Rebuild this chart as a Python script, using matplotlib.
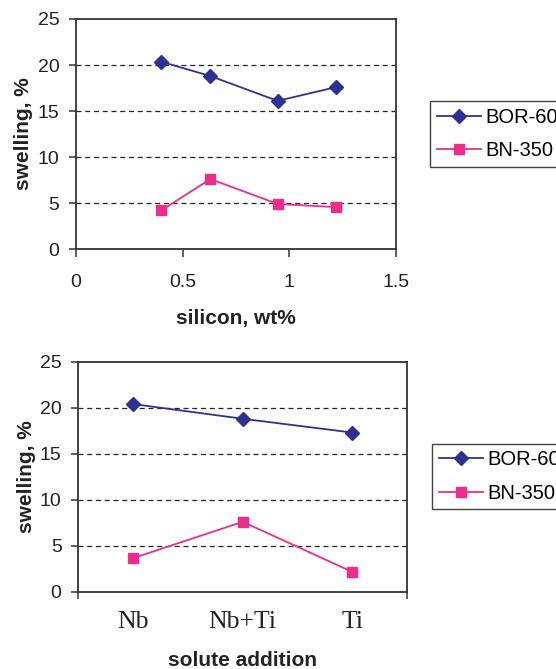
"""Swelling vs silicon content and solute addition, BOR-60 vs BN-350."""

import matplotlib
matplotlib.use("Agg")
import matplotlib.pyplot as plt

plt.rcParams["font.family"] = ["Liberation Sans", "DejaVu Sans"]

# top panel: silicon content
SILICON_WT = [0.40, 0.63, 0.945, 1.22]
SI_BOR60 = [20.35, 18.8, 16.1, 17.6]
SI_BN350 = [4.2, 7.6, 4.9, 4.55]

# bottom panel: solute addition
SOLUTES = ["Nb", "Nb+Ti", "Ti"]
SOL_BOR60 = [20.4, 18.8, 17.3]
SOL_BN350 = [3.65, 7.6, 2.15]

Y_TICKS = [0, 5, 10, 15, 20, 25]
SERIES_NAMES = ["BOR-60", "BN-350"]

NAVY = "#2e3192"
PINK = "#ec2d8c"


def style_axes(ax):
    ax.set_ylim(0, 25)
    ax.set_yticks(Y_TICKS)
    for y in Y_TICKS[1:-1]:
        ax.axhline(y, color="#222222", lw=0.9, ls=(0, (4, 3)), zorder=0)
    for sp in ax.spines.values():
        sp.set_color("#333333")
        sp.set_linewidth(1.3)
    ax.tick_params(axis="both", direction="out", length=5, width=1.1,
                   color="#333333", labelsize=14, labelcolor="#222222")
    ax.tick_params(axis="y", pad=7)
    ax.set_ylabel("swelling, %", fontsize=15, fontweight="bold",
                  color="#222222", labelpad=3)


def add_legend(fig, ax, anchor):
    # the reference crops the legend at the right edge of the figure
    fig.legend(*ax.get_legend_handles_labels(), loc="upper left",
               bbox_to_anchor=anchor, bbox_transform=fig.transFigure,
               borderaxespad=0, fancybox=False, edgecolor="#444444",
               framealpha=1, fontsize=14.5, handlelength=2.2,
               labelspacing=0.72, handletextpad=0.2, borderpad=0.33)


fig = plt.figure(figsize=(5.56, 6.69), dpi=100)

ax1 = fig.add_axes([0.1367, 0.6278, 0.5755, 0.3438])
ax1.plot(SILICON_WT, SI_BOR60, color=NAVY, marker="D", ms=7, lw=1.3,
         label=SERIES_NAMES[0])
ax1.plot(SILICON_WT, SI_BN350, color=PINK, marker="s", ms=7, lw=1.3,
         label=SERIES_NAMES[1])
ax1.set_xlim(0, 1.5)
ax1.set_xticks([0, 0.5, 1, 1.5], ["0", "0.5", "1", "1.5"])
style_axes(ax1)
ax1.tick_params(axis="x", length=6, pad=12)
ax1.set_xlabel("silicon, wt%", fontsize=15, fontweight="bold",
               color="#222222", labelpad=13)
add_legend(fig, ax1, (0.7734, 0.849))

ax2 = fig.add_axes([0.1408, 0.1155, 0.5917, 0.3438])
pos = [i + 0.5 for i in range(len(SOLUTES))]
ax2.plot(pos, SOL_BOR60, color=NAVY, marker="D", ms=7, lw=1.3,
         label=SERIES_NAMES[0])
ax2.plot(pos, SOL_BN350, color=PINK, marker="s", ms=7, lw=1.3,
         label=SERIES_NAMES[1])
ax2.set_xlim(0, len(SOLUTES))
style_axes(ax2)
ax2.set_xticks([0, len(SOLUTES)], ["", ""])
ax2.set_xticks(pos, SOLUTES, minor=True)
ax2.tick_params(axis="x", which="minor", length=0, pad=14, labelsize=18.5)
for lbl in ax2.get_xticklabels(minor=True):
    lbl.set_fontfamily(["Liberation Serif", "DejaVu Serif"])
    lbl.set_color("#222222")
ax2.set_xlabel("solute addition", fontsize=15, fontweight="bold",
               color="#222222", labelpad=13)
add_legend(fig, ax2, (0.7775, 0.3368))

fig.savefig("out.png", dpi=100)
